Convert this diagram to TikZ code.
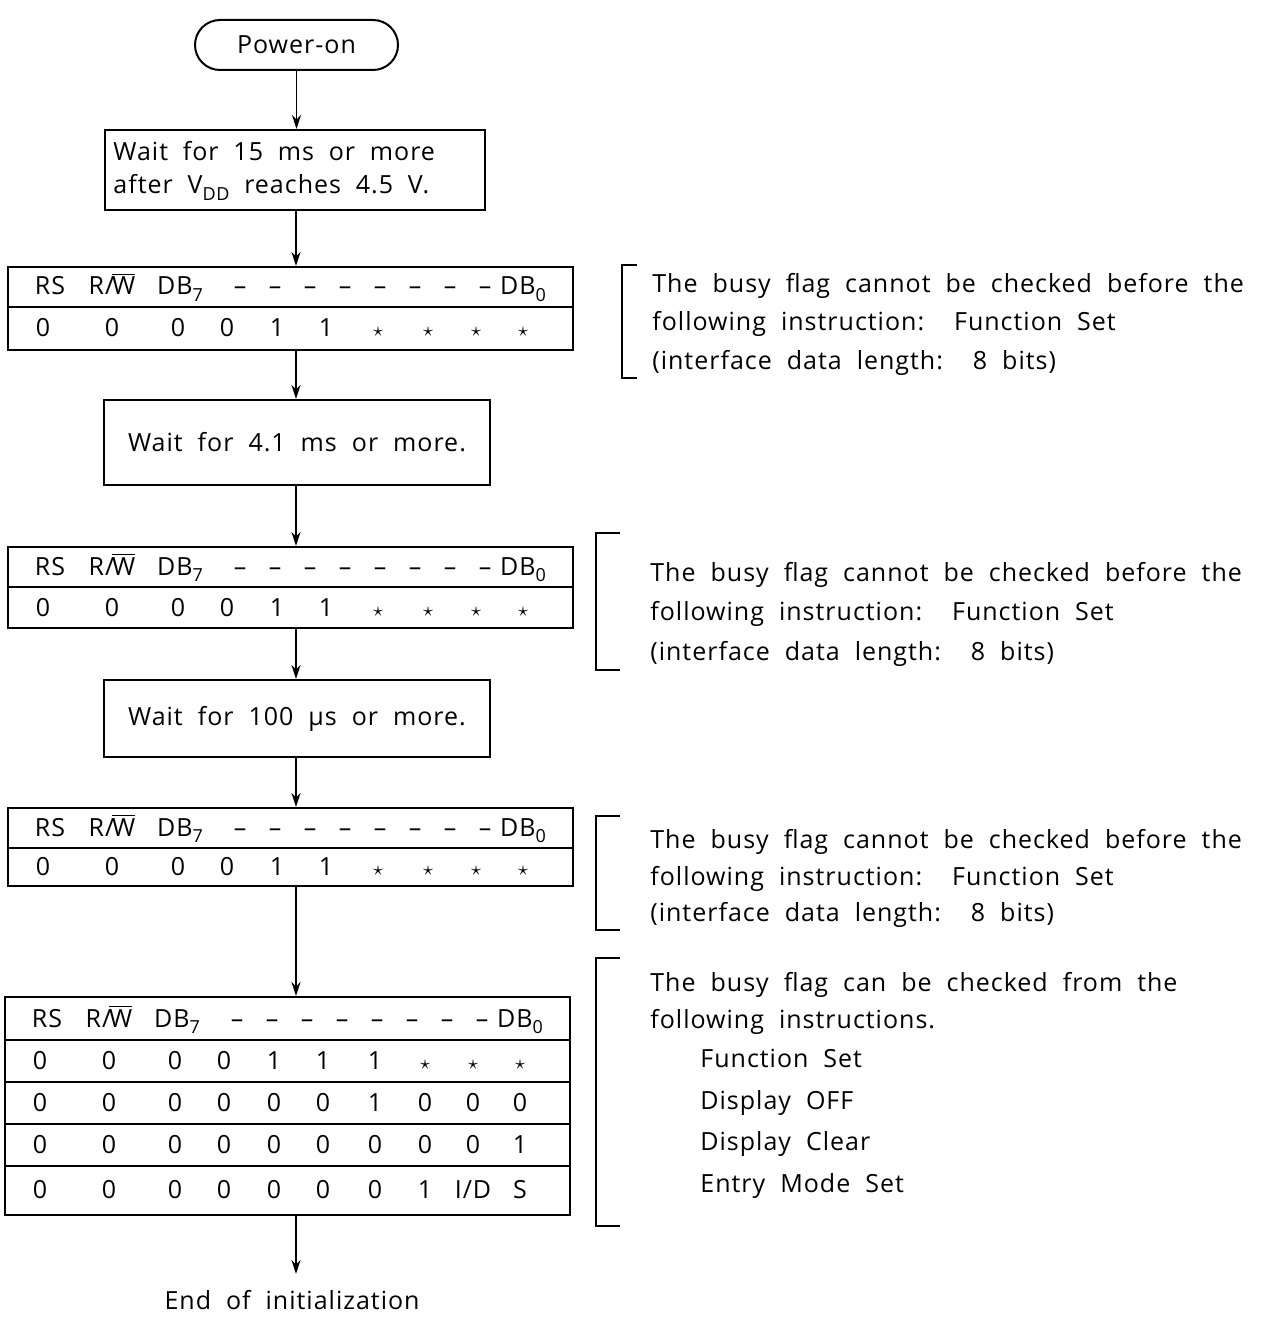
\documentclass[tikz,border=0pt]{standalone}
\usepackage{fontspec}
\setmainfont{Open Sans}[LetterSpace=4, WordSpace=2]
\usetikzlibrary{arrows.meta}
\newcommand\sub[1]{\raisebox{-0.45ex}{\fontsize{9}{10}\selectfont #1}}
\newcommand\st{{\normalsize$\star$}}
\newcommand\ws{\hspace{7.4pt}}
\newcommand\hdrrow[3]{%
  \node[cell] (#1rs) at ({50+#3},#2) {RS};
  \node[cell] (#1rw) at ({112+#3},#2) {R/\kern-1pt$\overline{\mbox{W}}$};
  \node[cell] (#1d7) at ({180+#3},#2) {DB\sub{7}};
  \foreach \k in {0,...,7} {\node[cell] (#1dash\k) at ({240+35*\k+#3},#2) {–};}
  \node[cell] (#1d0) at ({523+#3},#2) {DB\sub{0}};
}
\newcommand\datarow[4]{%
  \foreach \v [count=\c from 0] in {#4} {%
    \pgfmathsetmacro\xx{{43,112,178,227,277,326,378,428,476,523}[\c]+#3}
    \node[cell] (#1c\c) at (\xx,#2) {\v};}
}
\begin{document}
\begin{tikzpicture}[x=0.5pt,y=-0.5pt,
  every node/.style={font=\fontsize{12.5}{14}\selectfont, inner sep=0pt},
  frame/.style={draw, line width=1pt, rectangle},
  arr/.style={line width=0.9pt, -{Stealth[length=7pt,width=4.5pt]}},
  rule/.style={line width=1pt},
  cell/.style={anchor=base},
  note/.style={anchor=base west}]
\useasboundingbox (0,0) rectangle (1272,1320);

% flow boxes
\node[frame, rounded corners=12.5pt, minimum width=101.5pt, minimum height=25pt] (pw) at (296.5,45) {Power-on};
\node[frame, minimum width=190pt, minimum height=40pt] (b1) at (295,170) {};
\node[anchor=base west] (b1a) at (113,161) {Wait\ws for\ws 15\ws ms\ws or\ws more};
\node[anchor=base west] (b1b) at (113,194) {after\ws V\sub{DD}\ws reaches\ws 4.5\ws V.};
\node[frame, minimum width=282.5pt, minimum height=41.5pt] (t1) at (290.5,308.5) {};
\node[frame, minimum width=193pt, minimum height=42.5pt] (b2) at (297,442.5) {Wait for 4.1 ms or more.};
\node[frame, minimum width=282.5pt, minimum height=40.5pt] (t2) at (290.5,587.5) {};
\node[frame, minimum width=193pt, minimum height=38.5pt] (b3) at (297,718.5) {Wait for 100 µs or more.};
\node[frame, minimum width=282.5pt, minimum height=39pt] (t3) at (290.5,847) {};
\node[frame, minimum width=282.5pt, minimum height=109pt] (t4) at (287.5,1106) {};
\node (end) at (292,1300) {End of initialization};

% table rules
\draw[rule] (t1.west |- 0,307) -- (t1.east |- 0,307);
\draw[rule] (t2.west |- 0,587) -- (t2.east |- 0,587);
\draw[rule] (t3.west |- 0,848) -- (t3.east |- 0,848);
\foreach \yy in {1040,1082,1124,1166} {\draw[rule] (t4.west |- 0,\yy) -- (t4.east |- 0,\yy);}

% table contents
\hdrrow{ha}{295}{0}
\datarow{da}{337}{0}{0,0,0,0,1,1,\st,\st,\st,\st}
\hdrrow{hb}{575}{0}
\datarow{db}{616}{0}{0,0,0,0,1,1,\st,\st,\st,\st}
\hdrrow{hc}{836}{0}
\datarow{dc}{875}{0}{0,0,0,0,1,1,\st,\st,\st,\st}
\hdrrow{hd}{1027}{-3}
\datarow{de}{1069}{-3}{0,0,0,0,1,1,1,\st,\st,\st}
\datarow{df}{1111}{-3}{0,0,0,0,0,0,1,0,0,0}
\datarow{dg}{1153}{-3}{0,0,0,0,0,0,0,0,0,1}
\datarow{dh}{1198}{-3}{0,0,0,0,0,0,0,1,I/D,S}

% connectors
\coordinate (a0) at (296,0);
\draw[arr] (pw.south) -- (pw.south |- b1.north);
\draw[arr] (a0 |- b1.south) -- (a0 |- t1.north);
\draw[arr] (a0 |- t1.south) -- (a0 |- b2.north);
\draw[arr] (a0 |- b2.south) -- (a0 |- t2.north);
\draw[arr] (a0 |- t2.south) -- (a0 |- b3.north);
\draw[arr] (a0 |- b3.south) -- (a0 |- t3.north);
\draw[arr] (a0 |- t3.south) -- (a0 |- t4.north);
\coordinate (endtop) at (296,1274);
\draw[arr] (a0 |- t4.south) -- (endtop);

% brackets and notes
\draw[rule] (637,265) -- (622,265) -- (622,378) -- (637,378);
\node[note] (n1a) at (652,293) {The busy flag cannot be checked before the};
\node[note] (n1b) at (652,331) {following instruction:\ \ Function Set};
\node[note] (n1c) at (652,370) {(interface data length:\ \ 8 bits)};

\draw[rule] (620,533) -- (596,533) -- (596,670) -- (620,670);
\node[note] (n2a) at (650,581) {The busy flag cannot be checked before the};
\node[note] (n2b) at (650,620) {following instruction:\ \ Function Set};
\node[note] (n2c) at (650,660) {(interface data length:\ \ 8 bits)};

\draw[rule] (620,816) -- (596,816) -- (596,930) -- (620,930);
\node[note] (n3a) at (650,848) {The busy flag cannot be checked before the};
\node[note] (n3b) at (650,885) {following instruction:\ \ Function Set};
\node[note] (n3c) at (650,921) {(interface data length:\ \ 8 bits)};

\draw[rule] (620,958) -- (596,958) -- (596,1226) -- (620,1226);
\node[note] (n4a) at (650,991) {The busy flag can be checked from the};
\node[note] (n4b) at (650,1028) {following instructions.};
\node[note] (n4c) at (700,1067) {Function Set};
\node[note] (n4d) at (700,1109) {Display OFF};
\node[note] (n4e) at (700,1150) {Display Clear};
\node[note] (n4f) at (700,1192) {Entry Mode Set};
\end{tikzpicture}
\end{document}
